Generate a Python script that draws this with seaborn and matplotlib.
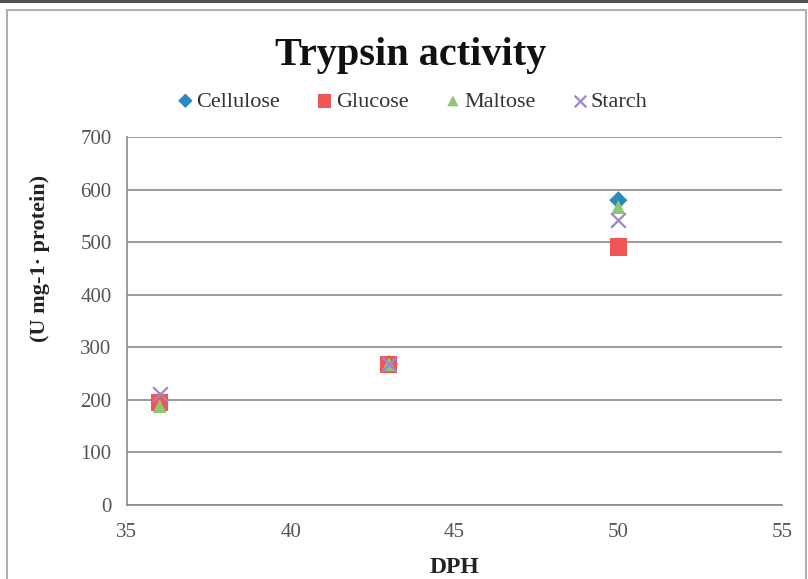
import matplotlib
matplotlib.use("Agg")
import matplotlib.pyplot as plt
import seaborn as sns
import pandas as pd
from matplotlib.patches import Rectangle

dph = [36, 43, 50]
cellulose = [198, 268, 580]
glucose = [195, 268, 491]
maltose = [188, 268, 567]
starch = [212, 268, 542]
series = ["Cellulose", "Glucose", "Maltose", "Starch"]
colors = ["#2A8AC0", "#F05656", "#8CC873", "#9A88C8"]
markers = ["D", "s", "^", "X"]

rows = []
for name, vals in zip(series, [cellulose, glucose, maltose, starch]):
    for x, v in zip(dph, vals):
        rows.append({"DPH": x, "value": v, "series": name})
df = pd.DataFrame(rows)

sns.set_style("white")
plt.rcParams["font.family"] = ["Liberation Serif", "DejaVu Serif"]

fig = plt.figure(figsize=(8.08, 5.79), dpi=100)
ax = fig.add_axes([0.157, 0.128, 0.811, 0.635])

# outer frame
fig.patches.append(Rectangle((0, 0.995), 1, 0.005, transform=fig.transFigure,
                             facecolor="#505050", edgecolor="none"))
fig.patches.append(Rectangle((0.009, -0.01), 0.988, 0.992, transform=fig.transFigure,
                             facecolor="none", edgecolor="#b0b0b0", lw=1.5))

sizes = {"Cellulose": 85, "Glucose": 150, "Maltose": 100, "Starch": 110}
for name, col, mk in zip(series, colors, markers):
    d = df[df.series == name]
    if mk == "X":
        sns.scatterplot(data=d, x="DPH", y="value", ax=ax, marker="x", color=col,
                        s=sizes[name], linewidth=1.6, label=name, zorder=3)
    else:
        sns.scatterplot(data=d, x="DPH", y="value", ax=ax, marker=mk, color=col,
                        s=sizes[name], edgecolor="none", label=name, zorder=3)

ax.set_xlim(35, 55)
ax.set_ylim(0, 700)
ax.set_xticks([35, 40, 45, 50, 55])
ax.set_yticks(range(0, 701, 100))
ax.yaxis.grid(True, color="#8a8a8a", lw=1.2)
ax.xaxis.grid(False)
for s in ["top", "right"]:
    ax.spines[s].set_visible(False)
for s in ["left", "bottom"]:
    ax.spines[s].set_color("#8a8a8a")
    ax.spines[s].set_linewidth(1.2)
ax.tick_params(axis="both", labelsize=15, colors="#555555", length=0)
ax.tick_params(axis="y", pad=11)
ax.tick_params(axis="x", pad=13)
ax.set_xlabel("DPH", fontsize=17, fontweight="bold", color="#222222", labelpad=11)
ax.set_ylabel("")
fig.text(0.050, 1 - 258 / 579, "(U mg-1· protein)", rotation=90, ha="center", va="center",
         fontsize=16, fontweight="bold", color="#222222")

fig.text(0.508, 0.905, "Trypsin activity", ha="center", va="center",
         fontsize=29, fontweight="bold", color="#111111")

handles, labels = ax.get_legend_handles_labels()
ax.legend(handles, labels, loc="center", bbox_to_anchor=(0.51, 0.825),
          bbox_transform=fig.transFigure, ncol=4, frameon=False, fontsize=16,
          handletextpad=0.1, handlelength=0.8, columnspacing=1.6, markerscale=0.8,
          labelcolor="#333333")

fig.savefig("out.png", dpi=100)
